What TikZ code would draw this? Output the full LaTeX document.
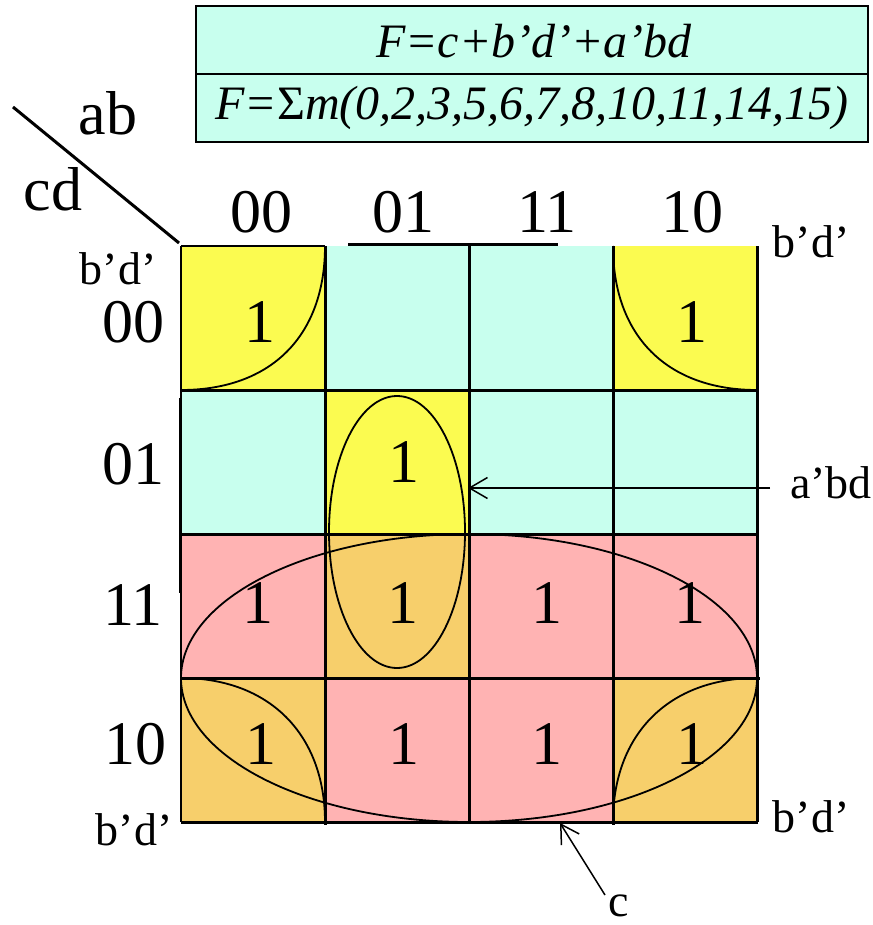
\documentclass[tikz,border=0pt]{standalone}
\usepackage{fontspec}
\setmainfont{Liberation Serif}
\usetikzlibrary{arrows.meta}
\definecolor{kyel}{HTML}{FBFB50}
\definecolor{kcyan}{HTML}{C8FFEE}
\definecolor{kpink}{HTML}{FFB3B3}
\definecolor{korange}{HTML}{F7CF6B}
\begin{document}
\begin{tikzpicture}[x=1pt,y=-1pt,
 big/.style={inner sep=0pt, anchor=base, font=\fontsize{62}{70}\selectfont},
 small/.style={inner sep=0pt, anchor=base, font=\fontsize{46}{52}\selectfont},
 formula/.style={inner sep=0pt, anchor=base, font=\fontsize{48}{56}\selectfont\itshape},
 gridline/.style={line width=3pt},
 thinline/.style={line width=1.5pt},
 looped/.style={line width=1.8pt},
 pointer/.style={line width=1.5pt, -{Straight Barb[length=18pt,width=21pt,line width=1.5pt]}},
 boxline/.style={line width=2pt, fill=kcyan}]
\useasboundingbox (0,0) rectangle (872,925);

% formula box
\draw[boxline] (196,6) rectangle (868,74);
\draw[boxline] (196,74) rectangle (868,142);
\node[formula] (f1) at (534,58) {F=c+b’d’+a’bd};
\node[formula] (f2) at (532,120) {F={\upshape Σ}m(0,2,3,5,6,7,8,10,11,14,15)};

% cells
\fill[kyel]    (181,246) rectangle (325,390);
\fill[kcyan]   (325,246) rectangle (469,390);
\fill[kcyan]   (469,246) rectangle (613,390);
\fill[kyel]    (613,246) rectangle (757,390);
\fill[kcyan]   (181,390) rectangle (325,534);
\fill[kyel]    (325,390) rectangle (469,534);
\fill[kcyan]   (469,390) rectangle (613,534);
\fill[kcyan]   (613,390) rectangle (757,534);
\fill[kpink]   (181,534) rectangle (325,678);
\fill[korange] (325,534) rectangle (469,678);
\fill[kpink]   (469,534) rectangle (613,678);
\fill[kpink]   (613,534) rectangle (757,678);
\fill[korange] (181,678) rectangle (325,822);
\fill[kpink]   (325,678) rectangle (469,822);
\fill[kpink]   (469,678) rectangle (613,822);
\fill[korange] (613,678) rectangle (757,822);

% grid
\draw[thinline] (181,246) -- (325,246);
\draw[thinline] (181,246) -- (181,822);
\draw[gridline] (180,398) -- (180,593);
\draw[gridline] (348,244) -- (558,244);
\draw[gridline] (325,246) -- (325,825);
\draw[gridline] (469,246) -- (469,822);
\draw[gridline] (613,246) -- (613,825);
\draw[gridline] (181,390) -- (757,390);
\draw[gridline] (181,534) -- (757,534);
\draw[gridline] (181,678) -- (760,678);
\draw[gridline] (757,246) -- (757,822);
\draw[gridline] (181,822) -- (758,822);

% header diagonal
\draw[gridline] (13,107) -- (179,243);

% loops
\draw[looped] (325,246) .. controls (325,336) and (271,390) .. (181,390);
\draw[looped] (613,246) .. controls (613,336) and (667,390) .. (757,390);
\draw[looped] (181,678) .. controls (269,678) and (325,734) .. (325,822);
\draw[looped] (757,678) .. controls (669,678) and (613,734) .. (613,822);
\draw[looped] (397,532) ellipse [x radius=68, y radius=136];
\draw[looped] (469,678) ellipse [x radius=288, y radius=144];

% header labels
\node[big] (ab) at (108,135) {ab};
\node[big] (cd) at (53,211) {cd};
\node[big] (c00) at (261,233) {00};
\node[big] (c01) at (403,233) {01};
\node[big] (c11) at (547,233) {11};
\node[big] (c10) at (692,233) {10};
\node[big] (r00) at (133,342) {00};
\node[big] (r01) at (133,484) {01};
\node[big] (r11) at (133,625) {11};
\node[big] (r10) at (135,764) {10};

% ones
\node[big] (m0)  at (260,342) {1};
\node[big] (m8)  at (692,342) {1};
\node[big] (m5)  at (404,482) {1};
\node[big] (m3)  at (258,623) {1};
\node[big] (m7)  at (403,623) {1};
\node[big] (m15) at (547,623) {1};
\node[big] (m11) at (690,623) {1};
\node[big] (m2)  at (261,764) {1};
\node[big] (m6)  at (404,764) {1};
\node[big] (m14) at (547,764) {1};
\node[big] (m10) at (692,764) {1};

% small labels
\node[small] (bdtl) at (118,284) {b’d’};
\node[small] (bdtr) at (811,257) {b’d’};
\node[small] (bdbl) at (134,845) {b’d’};
\node[small] (bdbr) at (811,832) {b’d’};
\node[small, anchor=base west] (abd) at (790,498) {a’bd};
\node[small] (clab) at (619,916) {c};

% pointers
\coordinate (abdtail) at (770,488);
\coordinate (abdtip) at (468,488);
\draw[pointer] (abdtail) -- (abdtip);
\coordinate (ctail) at (605,895);
\coordinate (ctip) at (560,823);
\draw[pointer] (ctail) -- (ctip);
\end{tikzpicture}
\end{document}
